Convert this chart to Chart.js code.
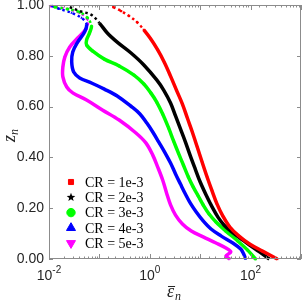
<!DOCTYPE html>
<html>
<head>
<meta charset="utf-8">
<script src="https://cdn.jsdelivr.net/npm/chart.js@4.4.1/dist/chart.umd.min.js"></script>
<style>
  html, body { margin:0; padding:0; background:#fff; }
  #wrap { width:305px; height:305px; position:relative; }
</style>
</head>
<body>
<div id="wrap"><canvas id="c"></canvas></div>
<script>
// values: dissipation (x, log) vs height z_n
const labelsCR = ['CR = 1e-3', 'CR = 2e-3', 'CR = 3e-3', 'CR = 4e-3', 'CR = 5e-3'];

const eps1 = [0.188, 0.270, 0.387, 0.556, 0.762, 1.047, 1.436, 1.97, 2.58, 3.38, 4.44, 5.56, 6.97, 8.73, 10.9, 13.7, 17.2, 21.5, 28.2, 38.7, 58.2, 95.5, 172, 338];
const z1   = [0.992, 0.976, 0.957, 0.933, 0.902, 0.866, 0.823, 0.772, 0.720, 0.665, 0.610, 0.555, 0.500, 0.441, 0.382, 0.323, 0.268, 0.217, 0.169, 0.126, 0.091, 0.059, 0.031, 0.0];

const eps2 = [0.0258, 0.0406, 0.0697, 0.100, 0.1435, 0.2255, 0.424, 0.762, 1.371, 1.884, 2.58, 3.24, 4.06, 5.08, 6.37, 7.98, 10.0, 13.1, 17.2, 22.5, 29.6, 40.5, 60.8, 95.5, 150, 236];
const z2   = [0.992, 0.976, 0.961, 0.929, 0.890, 0.854, 0.811, 0.764, 0.705, 0.665, 0.614, 0.563, 0.512, 0.461, 0.406, 0.354, 0.303, 0.252, 0.205, 0.165, 0.134, 0.110, 0.083, 0.055, 0.028, 0.0];

const eps3 = [0.0131, 0.0236, 0.0406, 0.0582, 0.0697, 0.0637, 0.0556, 0.0556, 0.0729, 0.1253, 0.2466, 0.485, 0.762, 1.047, 1.371, 1.80, 2.36, 2.96, 3.70, 4.64, 5.82, 7.29, 9.14, 11.45, 15.0, 20.6, 32.4, 55.6, 87.3, 125];
const z3   = [0.992, 0.984, 0.972, 0.949, 0.917, 0.890, 0.862, 0.843, 0.819, 0.787, 0.760, 0.724, 0.689, 0.654, 0.618, 0.571, 0.516, 0.465, 0.417, 0.370, 0.323, 0.283, 0.248, 0.213, 0.177, 0.146, 0.110, 0.071, 0.035, 0.0];

const eps4 = [0.01146, 0.01644, 0.0282, 0.0444, 0.0556, 0.0508, 0.0371, 0.0296, 0.0282, 0.0309, 0.0406, 0.0697, 0.1253, 0.2255, 0.444, 0.637, 0.873, 1.145, 1.50, 1.97, 2.58, 3.24, 4.06, 5.08, 6.37, 8.35, 11.45, 16.4, 25.8, 44.4, 63.7, 72.9, 79.8];
const z4   = [0.996, 0.984, 0.969, 0.949, 0.925, 0.894, 0.854, 0.815, 0.776, 0.736, 0.713, 0.693, 0.669, 0.642, 0.598, 0.571, 0.535, 0.500, 0.461, 0.421, 0.378, 0.335, 0.295, 0.256, 0.220, 0.185, 0.150, 0.118, 0.091, 0.063, 0.039, 0.020, 0.0];

const eps5 = [0.01047, 0.01884, 0.0406, 0.0582, 0.0556, 0.0371, 0.0258, 0.0206, 0.01884, 0.01884, 0.0225, 0.0296, 0.0556, 0.1145, 0.2466, 0.531, 0.835, 1.145, 1.436, 1.80, 2.15, 2.58, 3.24, 4.44, 6.66, 11.45, 20.6, 32.4, 40.5, 32.4, 38.7];
const z5   = [0.996, 0.988, 0.969, 0.941, 0.909, 0.870, 0.835, 0.795, 0.756, 0.717, 0.677, 0.654, 0.626, 0.587, 0.547, 0.496, 0.457, 0.409, 0.362, 0.311, 0.260, 0.213, 0.173, 0.138, 0.110, 0.087, 0.063, 0.043, 0.028, 0.012, 0.0];

const xLabelExp = [-2, 0, 2];   // decades carrying a label
const yTicks = [0, 0.2, 0.4, 0.6, 0.8, 1.0];

const colors = ['#ff0000', '#000000', '#00ff00', '#0000ff', '#ff00ff'];
const styles = [
  { pointStyle: 'rect', rotation: 0, r: 3.6 },
  { pointStyle: 'star', rotation: 0, r: 4.5 },
  { pointStyle: 'circle', rotation: 0, r: 4.2 },
  { pointStyle: 'triangle', rotation: 0, r: 5.2 },
  { pointStyle: 'triangle', rotation: 180, r: 5.2 }
];

const series = [[eps1, z1], [eps2, z2], [eps3, z3], [eps4, z4], [eps5, z5]];

const datasets = series.map((s, i) => ({
  label: labelsCR[i],
  data: s[0].map((x, k) => ({ x: x, y: s[1][k] })),
  showLine: true,
  borderColor: colors[i],
  backgroundColor: colors[i],
  borderWidth: 3.5,
  tension: 0.35,
  pointStyle: styles[i].pointStyle,
  rotation: styles[i].rotation,
  pointRadius: 1.6,
  pointBorderWidth: 0,
  clip: 4,
  segment: {
    borderDash: ctx => ctx.p0.parsed.y > 0.93 ? [2.5, 3] : undefined,
    borderWidth: ctx => ctx.p0.parsed.y > 0.93 ? 2.5 : 3.5
  }
}));

const axisGray = '#8c8c8c';

function filledStar(ctx, cx, cy, R) {
  const r = R * 0.42;
  ctx.beginPath();
  for (let k = 0; k < 10; k++) {
    const ang = -Math.PI / 2 + k * Math.PI / 5;
    const rr = k % 2 ? r : R;
    const px = cx + rr * Math.cos(ang), py = cy + rr * Math.sin(ang);
    if (k === 0) ctx.moveTo(px, py); else ctx.lineTo(px, py);
  }
  ctx.closePath();
  ctx.fill();
}

// frame, inward ticks, x labels with exponents, axis titles and legend
const decor = {
  id: 'decor',
  afterDraw(chart) {
    const { ctx, chartArea: a, scales: { x, y } } = chart;
    ctx.save();
    ctx.strokeStyle = axisGray;
    ctx.lineWidth = 1;
    ctx.strokeRect(a.left + 0.5, a.top + 0.5, a.right - a.left - 1, a.bottom - a.top - 1);

    ctx.beginPath();
    x.ticks.forEach(t => {
      const lg = Math.log10(t.value);
      const major = Math.abs(lg - Math.round(lg)) < 1e-6;
      const len = major ? 5 : 2.5;
      const px = Math.round(x.getPixelForValue(t.value)) + 0.5;
      ctx.moveTo(px, a.bottom); ctx.lineTo(px, a.bottom - len);
      ctx.moveTo(px, a.top); ctx.lineTo(px, a.top + len);
    });
    y.ticks.forEach(t => {
      const py = Math.round(y.getPixelForValue(t.value)) + 0.5;
      ctx.moveTo(a.left, py); ctx.lineTo(a.left + 4, py);
      ctx.moveTo(a.right, py); ctx.lineTo(a.right - 4, py);
    });
    ctx.stroke();

    // x tick labels 10^k
    ctx.fillStyle = '#262626';
    ctx.textBaseline = 'alphabetic';
    ctx.textAlign = 'left';
    xLabelExp.forEach(e => {
      const px = x.getPixelForValue(Math.pow(10, e));
      const base = '10', ex = String(e);
      ctx.font = '14px "Liberation Sans", Arial, sans-serif';
      const w1 = ctx.measureText(base).width;
      ctx.font = '10px "Liberation Sans", Arial, sans-serif';
      const w2 = ctx.measureText(ex).width;
      const x0 = px - (w1 + w2) / 2;
      ctx.font = '14px "Liberation Sans", Arial, sans-serif';
      ctx.fillText(base, x0, a.bottom + 21);
      ctx.font = '10px "Liberation Sans", Arial, sans-serif';
      ctx.fillText(ex, x0 + w1, a.bottom + 14);
    });

    // axis titles
    ctx.fillStyle = '#262626';
    ctx.save();
    ctx.translate(15, (a.top + a.bottom) / 2 + 4);
    ctx.rotate(-Math.PI / 2);
    ctx.font = 'italic 18px "Liberation Serif", serif';
    ctx.fillText('z', -6, 0);
    const wz = ctx.measureText('z').width;
    ctx.font = 'italic 12px "Liberation Serif", serif';
    ctx.fillText('n', -6 + wz, 3);
    ctx.restore();

    const cx = (a.left + a.right) / 2 - 8;
    ctx.font = 'italic 18px "Liberation Serif", serif';
    ctx.fillText('\u03b5', cx, 297);
    const we = ctx.measureText('\u03b5').width;
    ctx.beginPath();
    ctx.strokeStyle = '#262626';
    ctx.lineWidth = 1;
    ctx.moveTo(cx + 1, 286.5); ctx.lineTo(cx + we + 1, 286.5);
    ctx.stroke();
    ctx.font = 'italic 12px "Liberation Serif", serif';
    ctx.fillText('n', cx + we + 1, 300);

    // legend inside the axes
    const H = Chart.helpers;
    ctx.textBaseline = 'middle';
    labelsCR.forEach((lab, i) => {
      const ly = 182 + i * 15.3;
      ctx.fillStyle = colors[i];
      ctx.strokeStyle = colors[i];
      if (styles[i].pointStyle === 'star') {
        filledStar(ctx, 71, ly, styles[i].r);
      } else if (H && H.drawPoint) {
        H.drawPoint(ctx, { pointStyle: styles[i].pointStyle, rotation: styles[i].rotation, radius: styles[i].r, borderWidth: 1 }, 71, ly);
      }
      ctx.fillStyle = '#000';
      ctx.font = '14px "Liberation Serif", serif';
      ctx.fillText(lab, 85, ly + 1);
    });
    ctx.restore();
  }
};

new Chart(document.getElementById('c'), {
  type: 'scatter',
  data: { datasets: datasets },
  plugins: [decor],
  options: {
    responsive: true,
    maintainAspectRatio: false,
    animation: false,
    layout: { padding: { top: 5, right: 1, left: 0, bottom: 0 } },
    plugins: { legend: { display: false }, tooltip: { enabled: false } },
    scales: {
      x: {
        type: 'logarithmic',
        min: 0.01, max: 1000,
        grid: { display: false },
        border: { display: false },
        ticks: { display: false },
        afterFit: s => { s.height = 46; s.paddingLeft = 0; s.paddingRight = 0; }
      },
      y: {
        min: 0, max: 1,
        afterBuildTicks: s => { s.ticks = yTicks.map(v => ({ value: v })); },
        grid: { display: false, drawTicks: false },
        border: { display: false },
        ticks: {
          padding: 5,
          color: '#262626',
          font: { family: '"Liberation Sans", Arial, sans-serif', size: 14 },
          callback: v => v.toFixed(2)
        },
        afterFit: s => { s.width = 49; s.paddingTop = 0; s.paddingBottom = 0; }
      }
    }
  }
});
</script>
</body>
</html>
